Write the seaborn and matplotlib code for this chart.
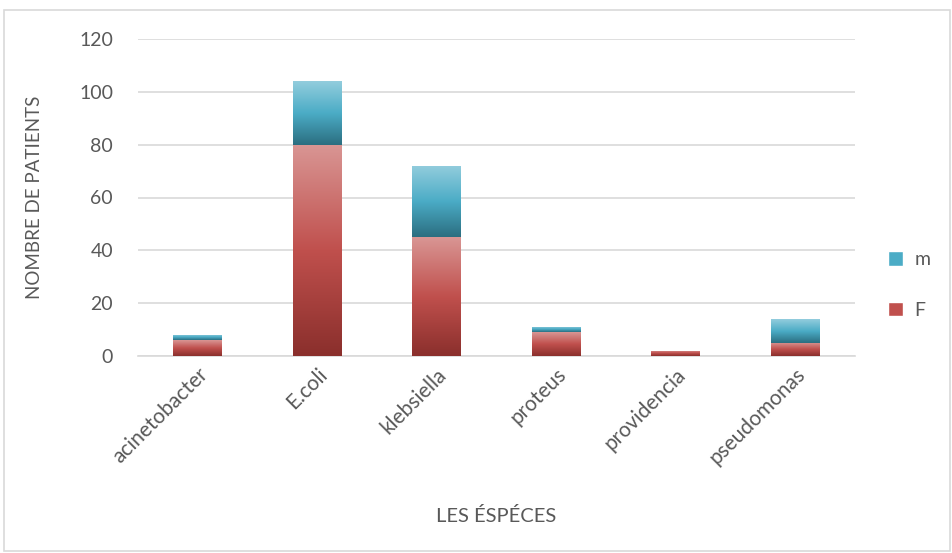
import numpy as np
import pandas as pd
import matplotlib
matplotlib.use("Agg")
import matplotlib.pyplot as plt
import seaborn as sns
from matplotlib.colors import LinearSegmentedColormap
from matplotlib.patches import Patch, Rectangle

# données
especes = ['acinetobacter', 'E.coli', 'klebsiella', 'proteus', 'providencia', 'pseudomonas']
F = [6, 80, 45, 9, 2, 5]
m = [2, 24, 27, 2, 0, 9]

sns.set_theme(style='white')
plt.rcParams['font.family'] = ['Lato', 'DejaVu Sans']

gris = '#595959'
rouge = LinearSegmentedColormap.from_list('rouge', ['#8A2F2C', '#C0504D', '#D99694'])
bleu = LinearSegmentedColormap.from_list('bleu', ['#2B6E80', '#4BACC6', '#93CDDD'])

df = pd.DataFrame({'espece': especes, 'F': F, 'm': m})
df['total'] = df['F'] + df['m']

fig = plt.figure(figsize=(9.52, 5.53), dpi=100)
ax = fig.add_axes([138 / 952, 1 - 356 / 553, (855 - 138) / 952, (356 - 39) / 553])

sns.barplot(data=df, x='espece', y='total', color='#4BACC6', width=0.41, ax=ax,
            zorder=2, linewidth=0)
n = len(df)
sns.barplot(data=df, x='espece', y='F', color='#C0504D', width=0.41, ax=ax,
            zorder=3, linewidth=0)

# dégradé façon Excel dans chaque segment
grad = np.linspace(0, 1, 256).reshape(-1, 1)
patches = ax.patches
for i, p in enumerate(patches[:n]):
    x0, w = p.get_x(), p.get_width()
    lo, hi = df['F'][i], df['total'][i]
    if hi > lo:
        im = ax.imshow(grad, cmap=bleu, origin='lower', aspect='auto',
                       extent=[x0, x0 + w, lo, hi], zorder=2.5)
        im.set_clip_path(p)
for i, p in enumerate(patches[n:2 * n]):
    x0, w = p.get_x(), p.get_width()
    hi = df['F'][i]
    if hi > 0:
        im = ax.imshow(grad, cmap=rouge, origin='lower', aspect='auto',
                       extent=[x0, x0 + w, 0, hi], zorder=3.5)
        im.set_clip_path(p)

ax.set_xlim(-0.5, n - 0.5)
ax.set_ylim(0, 120)
ax.set_yticks(range(0, 121, 20))
ax.yaxis.grid(True, color='#D9D9D9', linewidth=1.2, zorder=0)
ax.set_axisbelow(True)
for s in ['top', 'right', 'left']:
    ax.spines[s].set_visible(False)
ax.spines['bottom'].set_color('#D9D9D9')
ax.spines['bottom'].set_linewidth(1.2)
ax.tick_params(axis='y', length=0, labelsize=14, colors=gris, pad=18)
ax.tick_params(axis='x', length=0, labelsize=15, colors=gris, pad=6)
plt.setp(ax.get_xticklabels(), rotation=45, ha='right', rotation_mode='anchor')
ax.set_xlabel('LES ÉSPÉCES', fontsize=14.5, color=gris, labelpad=28)
ax.set_ylabel('NOMBRE DE PATIENTS', fontsize=13.5, color=gris, labelpad=26)

handles = [Patch(facecolor='#4BACC6', label='m'), Patch(facecolor='#C0504D', label='F')]
fig.legend(handles=handles, loc='center left', bbox_to_anchor=(870 / 952, 1 - 285 / 553),
           frameon=False, fontsize=14, labelcolor=gris, handlelength=0.8, handleheight=0.8,
           labelspacing=1.7, handletextpad=0.6)

fig.patches.append(Rectangle((4 / 952, 2 / 553), 946 / 952, 541 / 553, transform=fig.transFigure,
                             fill=False, edgecolor='#D9D9D9', linewidth=1.2))

fig.savefig('out.png', dpi=100)
